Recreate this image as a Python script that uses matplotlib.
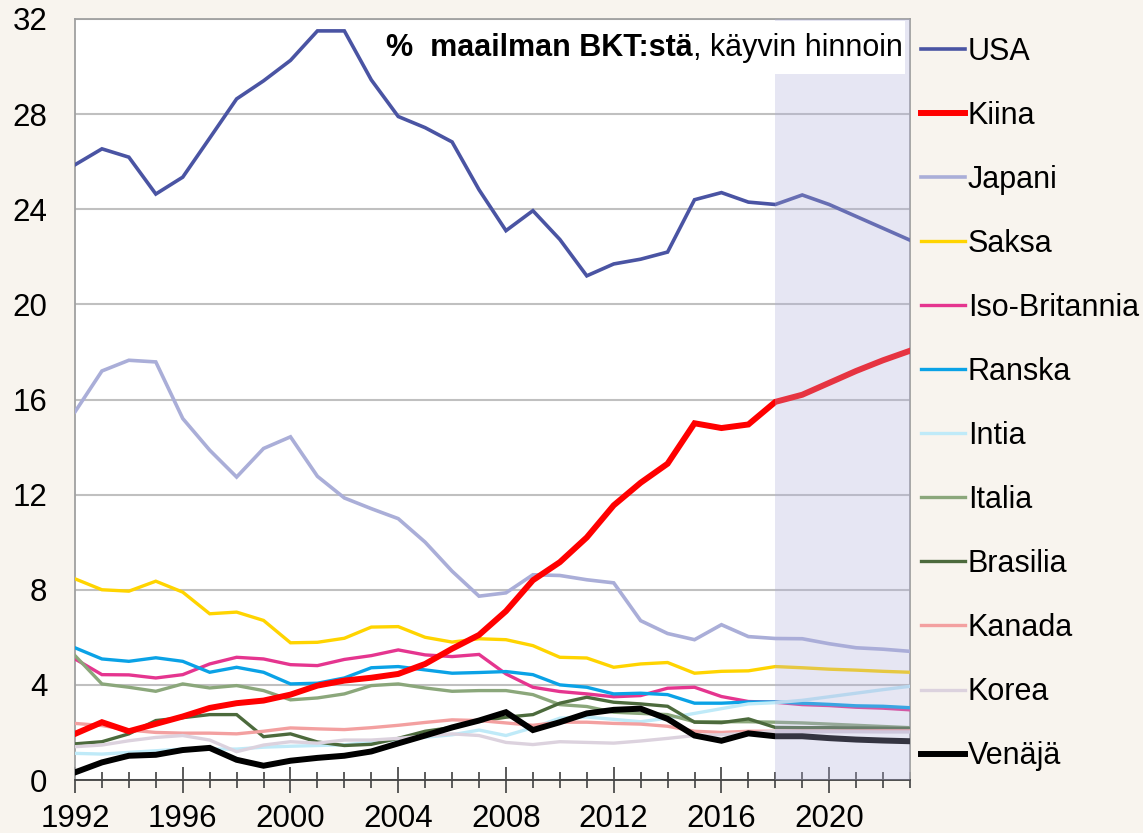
import matplotlib
matplotlib.use('Agg')
import matplotlib.pyplot as plt
from matplotlib.patches import Rectangle
from matplotlib.ticker import MultipleLocator

plt.rcParams['font.family'] = ['Liberation Sans', 'DejaVu Sans']

years = list(range(1992, 2024))
forecast_start = 2018

usa = [25.87, 26.54, 26.19, 24.64, 25.35, 26.99, 28.64, 29.4, 30.26, 31.5, 31.5, 29.44,
       27.9, 27.43, 26.83, 24.82, 23.1, 23.94, 22.73, 21.2, 21.7, 21.9, 22.2, 24.4,
       24.7, 24.3, 24.2, 24.6, 24.2, 23.7, 23.2, 22.7]
kiina = [1.94, 2.43, 2.05, 2.36, 2.67, 3.03, 3.23, 3.34, 3.59, 3.97, 4.18, 4.3,
         4.46, 4.88, 5.52, 6.1, 7.1, 8.4, 9.16, 10.2, 11.55, 12.5, 13.3, 15.0,
         14.8, 14.95, 15.9, 16.2, 16.7, 17.2, 17.65, 18.05]
japani = [15.48, 17.2, 17.65, 17.58, 15.2, 13.87, 12.74, 13.94, 14.43, 12.77, 11.86, 11.41,
          10.99, 10.0, 8.78, 7.73, 7.87, 8.63, 8.6, 8.42, 8.29, 6.7, 6.16, 5.9,
          6.53, 6.03, 5.95, 5.94, 5.73, 5.56, 5.5, 5.41]
saksa = [8.46, 8.0, 7.94, 8.36, 7.9, 6.99, 7.06, 6.71, 5.77, 5.79, 5.96, 6.43,
         6.45, 6.0, 5.8, 5.94, 5.9, 5.65, 5.16, 5.13, 4.74, 4.88, 4.94, 4.49,
         4.57, 4.59, 4.77, 4.72, 4.66, 4.62, 4.57, 4.53]
britannia = [5.09, 4.43, 4.42, 4.29, 4.43, 4.88, 5.16, 5.09, 4.85, 4.81, 5.07, 5.23,
             5.47, 5.26, 5.19, 5.28, 4.46, 3.9, 3.72, 3.62, 3.5, 3.55, 3.86, 3.9,
             3.51, 3.3, 3.27, 3.17, 3.13, 3.06, 3.02, 2.95]
ranska = [5.56, 5.09, 4.99, 5.14, 4.99, 4.53, 4.74, 4.53, 4.04, 4.07, 4.29, 4.72,
          4.77, 4.63, 4.49, 4.52, 4.56, 4.43, 4.0, 3.9, 3.62, 3.65, 3.59, 3.23,
          3.23, 3.28, 3.28, 3.23, 3.18, 3.12, 3.1, 3.04]
intia = [1.12, 1.09, 1.16, 1.23, 1.3, 1.3, 1.3, 1.38, 1.42, 1.45, 1.48, 1.58,
         1.7, 1.8, 1.9, 2.1, 1.87, 2.2, 2.6, 2.65, 2.55, 2.45, 2.6, 2.8,
         3.0, 3.2, 3.25, 3.35, 3.5, 3.65, 3.8, 3.94]
italia = [5.23, 4.04, 3.9, 3.73, 4.04, 3.87, 3.97, 3.76, 3.37, 3.45, 3.62, 3.97,
          4.04, 3.87, 3.73, 3.76, 3.76, 3.59, 3.17, 3.09, 2.85, 2.8, 2.75, 2.45,
          2.45, 2.45, 2.43, 2.4, 2.35, 2.3, 2.25, 2.2]
brasilia = [1.52, 1.61, 1.94, 2.5, 2.62, 2.75, 2.75, 1.82, 1.94, 1.6, 1.45, 1.5,
            1.75, 2.05, 2.21, 2.47, 2.64, 2.75, 3.23, 3.48, 3.27, 3.2, 3.1, 2.43,
            2.41, 2.57, 2.21, 2.2, 2.2, 2.19, 2.18, 2.17]
kanada = [2.38, 2.29, 2.1, 2.0, 1.97, 1.97, 1.94, 2.05, 2.19, 2.15, 2.12, 2.2,
          2.3, 2.42, 2.53, 2.5, 2.4, 2.3, 2.43, 2.43, 2.38, 2.35, 2.26, 2.05,
          2.0, 2.05, 2.05, 2.05, 2.05, 2.06, 2.07, 2.07]
korea = [1.4, 1.47, 1.65, 1.79, 1.87, 1.68, 1.19, 1.47, 1.61, 1.55, 1.68, 1.68,
         1.75, 1.85, 1.94, 1.87, 1.58, 1.49, 1.61, 1.58, 1.55, 1.64, 1.75, 1.87,
         1.9, 1.97, 2.05, 2.03, 2.03, 2.03, 2.02, 2.02]
venaja = [0.32, 0.74, 1.02, 1.06, 1.26, 1.35, 0.85, 0.6, 0.81, 0.93, 1.02, 1.2,
          1.54, 1.87, 2.21, 2.5, 2.85, 2.1, 2.43, 2.8, 2.95, 3.0, 2.57, 1.87,
          1.65, 1.96, 1.84, 1.84, 1.76, 1.7, 1.66, 1.63]

# (label, data, colour, linewidth, zorder)
series = [
    ('USA', usa, '#4a54a3', 2.6, 3),
    ('Kiina', kiina, '#ff0000', 4.3, 4),
    ('Japani', japani, '#aaaed8', 2.6, 3),
    ('Saksa', saksa, '#ffd400', 2.4, 3),
    ('Iso-Britannia', britannia, '#e5358f', 2.4, 3),
    ('Ranska', ranska, '#0aa2e6', 2.4, 3),
    ('Intia', intia, '#bfeaf8', 2.4, 3),
    ('Italia', italia, '#8ba77b', 2.4, 3),
    ('Brasilia', brasilia, '#4c6a3c', 2.4, 3),
    ('Kanada', kanada, '#f3a0a0', 2.4, 3),
    ('Korea', korea, '#dcd2de', 2.4, 3),
    ('Venäjä', venaja, '#000000', 4.3, 4),
]

fig = plt.figure(figsize=(11.43, 8.33), dpi=100, facecolor='#f8f4ee')
ax = fig.add_axes([75 / 1143, 53 / 833, 835 / 1143, 761 / 833])
ax.set_facecolor('white')

for label, data, color, lw, z in series:
    ax.plot(years, data, color=color, lw=lw, label=label, zorder=z,
            solid_joinstyle='miter')

# forecast shading drawn over the lines
ax.axvspan(forecast_start, years[-1], color='#adadd9', alpha=0.3, lw=0, zorder=5)

ax.set_xlim(years[0], years[-1])
ax.set_ylim(0, 32)
ax.yaxis.set_major_locator(MultipleLocator(4))
ax.xaxis.set_major_locator(MultipleLocator(4))
ax.xaxis.set_minor_locator(MultipleLocator(1))
ax.grid(axis='y', color='#c0c0c0', lw=1.5, zorder=1)
ax.set_axisbelow(True)

for side in ['left', 'right', 'top']:
    ax.spines[side].set_color('#a0a0a0')
    ax.spines[side].set_linewidth(1.3)
ax.spines['bottom'].set_color('#404040')
ax.spines['bottom'].set_linewidth(1.3)

ax.tick_params(axis='y', length=0, pad=20, labelsize=22.5)
ax.tick_params(axis='x', which='major', direction='inout', length=19,
               width=1.2, color='#404040', pad=8, labelsize=22.5)
ax.tick_params(axis='x', which='minor', direction='inout', length=11,
               width=1.2, color='#404040')

# title box
ax.add_patch(Rectangle((0.365, 0.928), 0.629, 0.07, transform=ax.transAxes,
                       facecolor='white', edgecolor='none', zorder=6))
t2 = ax.text(0.9915, 0.9625, ', käyvin hinnoin', transform=ax.transAxes,
             ha='right', va='center', fontsize=22, zorder=7)
ax.annotate('%  maailman BKT:stä', xy=(0, 0.5), xycoords=t2, ha='right',
            va='center', fontsize=22, fontweight='bold', zorder=7)

leg = ax.legend(loc='upper left', bbox_to_anchor=(0.998, 0.993), frameon=False,
                fontsize=22, handlelength=1.45, handletextpad=0.1,
                labelspacing=1.115, borderaxespad=0)

fig.savefig('out.png', dpi=100, facecolor=fig.get_facecolor())
